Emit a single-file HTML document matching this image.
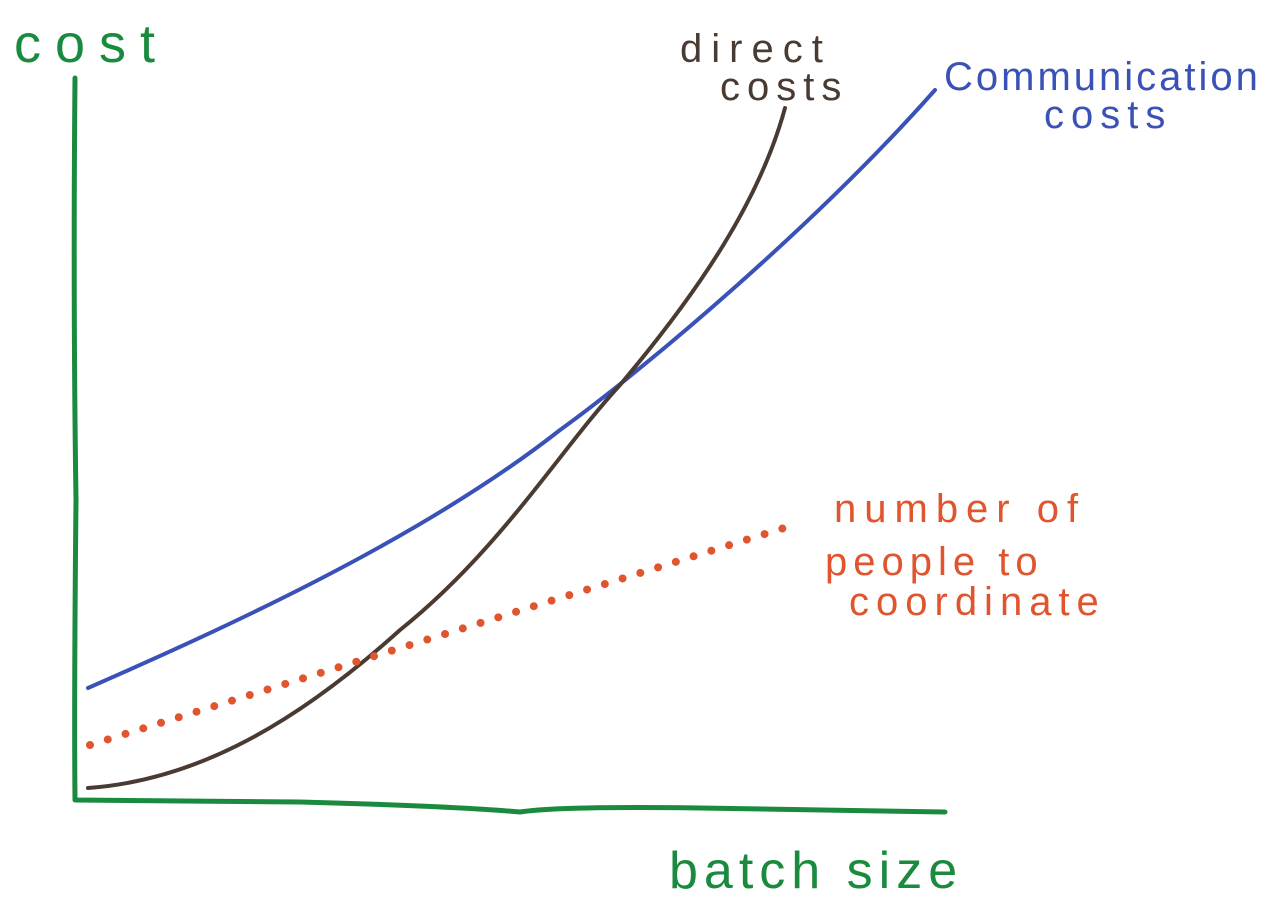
<!DOCTYPE html>
<html><head><meta charset="utf-8"><style>
html,body{margin:0;padding:0;background:#fff;width:1272px;height:910px;overflow:hidden}
text{font-family:"Liberation Sans",sans-serif}
</style></head><body>
<svg width="1272" height="910" viewBox="0 0 1272 910" xmlns="http://www.w3.org/2000/svg">
<rect width="1272" height="910" fill="#fff"/>
<path d="M75 78 Q73 300 76 500 Q74 700 75 800 L300 802 Q450 806 520 812 Q560 806 700 808 L945 812" fill="none" stroke="#1a8a3e" stroke-width="5" stroke-linecap="round" stroke-linejoin="round"/>
<path d="M88 688 C220 630 420 540 560 430 C650 365 820 220 935 90" fill="none" stroke="#3a52b8" stroke-width="4" stroke-linecap="round"/>
<path d="M88 788 C200 780 300 720 400 630 C500 550 560 450 620 385 C700 290 760 200 785 108" fill="none" stroke="#4a3b32" stroke-width="4" stroke-linecap="round"/>
<line x1="90" y1="745" x2="800" y2="523" stroke="#e0542e" stroke-width="8" stroke-linecap="round" stroke-dasharray="0 18.6"/>
<text x="14" y="62" font-size="54" letter-spacing="14" fill="#1a8a3e">cost</text>
<text x="680" y="62" font-size="40" letter-spacing="9" fill="#4a3b32">direct</text>
<text x="720" y="100" font-size="40" letter-spacing="7" fill="#4a3b32">costs</text>
<text x="944" y="90" font-size="40" letter-spacing="3" fill="#3a52b8">Communication</text>
<text x="1044" y="128" font-size="40" letter-spacing="7" fill="#3a52b8">costs</text>
<text x="834" y="522" font-size="40" letter-spacing="8" fill="#e0542e">number of</text>
<text x="825" y="575" font-size="40" letter-spacing="6" fill="#e0542e">people to</text>
<text x="849" y="615" font-size="40" letter-spacing="7" fill="#e0542e">coordinate</text>
<text x="669" y="888" font-size="52" letter-spacing="6" fill="#1a8a3e">batch size</text>
</svg>
</body></html>
